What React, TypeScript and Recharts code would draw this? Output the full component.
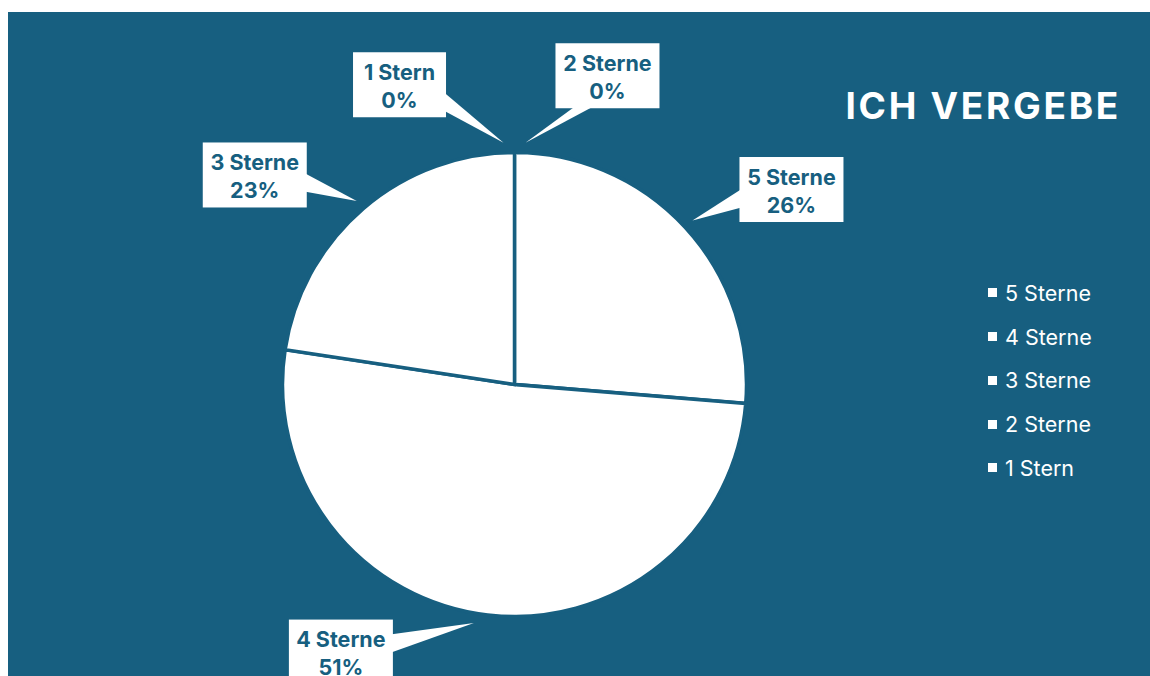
import { PieChart, Pie, Cell, Legend } from "recharts";

const categories = ["5 Sterne", "4 Sterne", "3 Sterne", "2 Sterne", "1 Stern"];
const shares = [26.3, 51.1, 22.6, 0, 0];

const chartData = categories.map((name, i) => ({ name, value: shares[i] }));

const TEAL = "#175F80";
const FONT = "Inter, 'Noto Sans', sans-serif";
const WIDTH = 1142;
const HEIGHT = 664;
const RADIAN = Math.PI / 180;

// where each callout box sits relative to its pointer tip (box centre offset),
// nudge = small angle shift of the tip so the two 0% pointers don't overlap
const callouts: Record<string, { dx: number; dy: number; nudge: number }> = {
  "5 Sterne": { dx: 99, dy: -31, nudge: 0 },
  "4 Sterne": { dx: -133, dy: 29, nudge: -3 },
  "3 Sterne": { dx: -102, dy: -26, nudge: 0 },
  "2 Sterne": { dx: 82, dy: -67, nudge: -2.6 },
  "1 Stern": { dx: -104, dy: -58, nudge: 2.6 },
};

const clamp = (v: number, lo: number, hi: number) => Math.min(hi, Math.max(lo, v));

function renderCallout(props: any) {
  const { cx, cy, midAngle, outerRadius, name, percent } = props;
  const spec = callouts[name] || { dx: 0, dy: -60, nudge: 0 };
  const angle = (midAngle + spec.nudge) * RADIAN;
  const r = outerRadius + 10;
  const tx = cx + r * Math.cos(-angle);
  const ty = cy + r * Math.sin(-angle);

  const w = name.length * 11 + 16;
  const h = 65;
  const bx = tx + spec.dx;
  const by = ty + spec.dy;
  const left = bx - w / 2;
  const top = by - h / 2;

  // pointer base on the side of the box facing the tip
  const relX = (tx - bx) / (w / 2);
  const relY = (ty - by) / (h / 2);
  let p1: [number, number];
  let p2: [number, number];
  const half = 9;
  if (Math.abs(relX) > Math.abs(relY)) {
    const ex = tx > bx ? left + w - 1 : left + 1;
    const my = clamp(by + 0.3 * (ty - by), top + 12, top + h - 12);
    p1 = [ex, my - half];
    p2 = [ex, my + half];
  } else {
    const ey = ty > by ? top + h - 1 : top + 1;
    const mx = clamp(bx + 0.3 * (tx - bx), left + 12, left + w - 12);
    p1 = [mx - half, ey];
    p2 = [mx + half, ey];
  }

  return (
    <g key={`callout-${name}`}>
      <polygon points={`${tx},${ty} ${p1[0]},${p1[1]} ${p2[0]},${p2[1]}`} fill="#fff" />
      <rect x={left} y={top} width={w} height={h} fill="#fff" />
      <text
        x={bx}
        textAnchor="middle"
        fill={TEAL}
        fontFamily={FONT}
        fontWeight={700}
        fontSize={21.5}
      >
        <tspan x={bx} y={by - 5}>{name}</tspan>
        <tspan x={bx} y={by + 23}>{`${Math.round(percent * 100)}%`}</tspan>
      </text>
    </g>
  );
}

function renderLegend(props: any) {
  const items = [...(props.payload || [])].sort(
    (a: any, b: any) => categories.indexOf(a.value) - categories.indexOf(b.value)
  );
  return (
    <ul style={{ listStyle: "none", margin: 0, padding: 0 }}>
      {items.map((entry: any) => (
        <li
          key={entry.value}
          style={{
            display: "flex",
            alignItems: "center",
            height: 43.75,
            color: "#fff",
            fontFamily: FONT,
            fontSize: 21.5,
          }}
        >
          <span
            style={{
              display: "inline-block",
              width: 9,
              height: 9,
              background: "#fff",
              marginRight: 8,
            }}
          />
          {entry.value}
        </li>
      ))}
    </ul>
  );
}

export default function App() {
  return (
    <div
      style={{
        position: "fixed",
        left: 8,
        top: 12,
        width: WIDTH,
        height: HEIGHT,
        background: TEAL,
        overflow: "hidden",
      }}
    >
      <div
        style={{
          position: "absolute",
          right: 29,
          top: 76,
          color: "#fff",
          fontFamily: FONT,
          fontWeight: 700,
          fontSize: 37,
          lineHeight: "36px",
          letterSpacing: 2.7,
          whiteSpace: "nowrap",
        }}
      >
        ICH VERGEBE
      </div>
      <PieChart width={WIDTH} height={HEIGHT} margin={{ top: 0, right: 0, bottom: 0, left: 0 }}>
        <Pie
          data={chartData}
          dataKey="value"
          nameKey="name"
          cx={506.5}
          cy={372.5}
          outerRadius={232}
          startAngle={90}
          endAngle={-270}
          stroke={TEAL}
          strokeWidth={3.5}
          label={renderCallout}
          labelLine={false}
          isAnimationActive={false}
        >
          {chartData.map((d) => (
            <Cell key={d.name} fill="#ffffff" />
          ))}
        </Pie>
        <Legend
          layout="vertical"
          align="right"
          verticalAlign="top"
          content={renderLegend}
          wrapperStyle={{ left: 980, top: 259, width: 140 }}
        />
      </PieChart>
    </div>
  );
}
